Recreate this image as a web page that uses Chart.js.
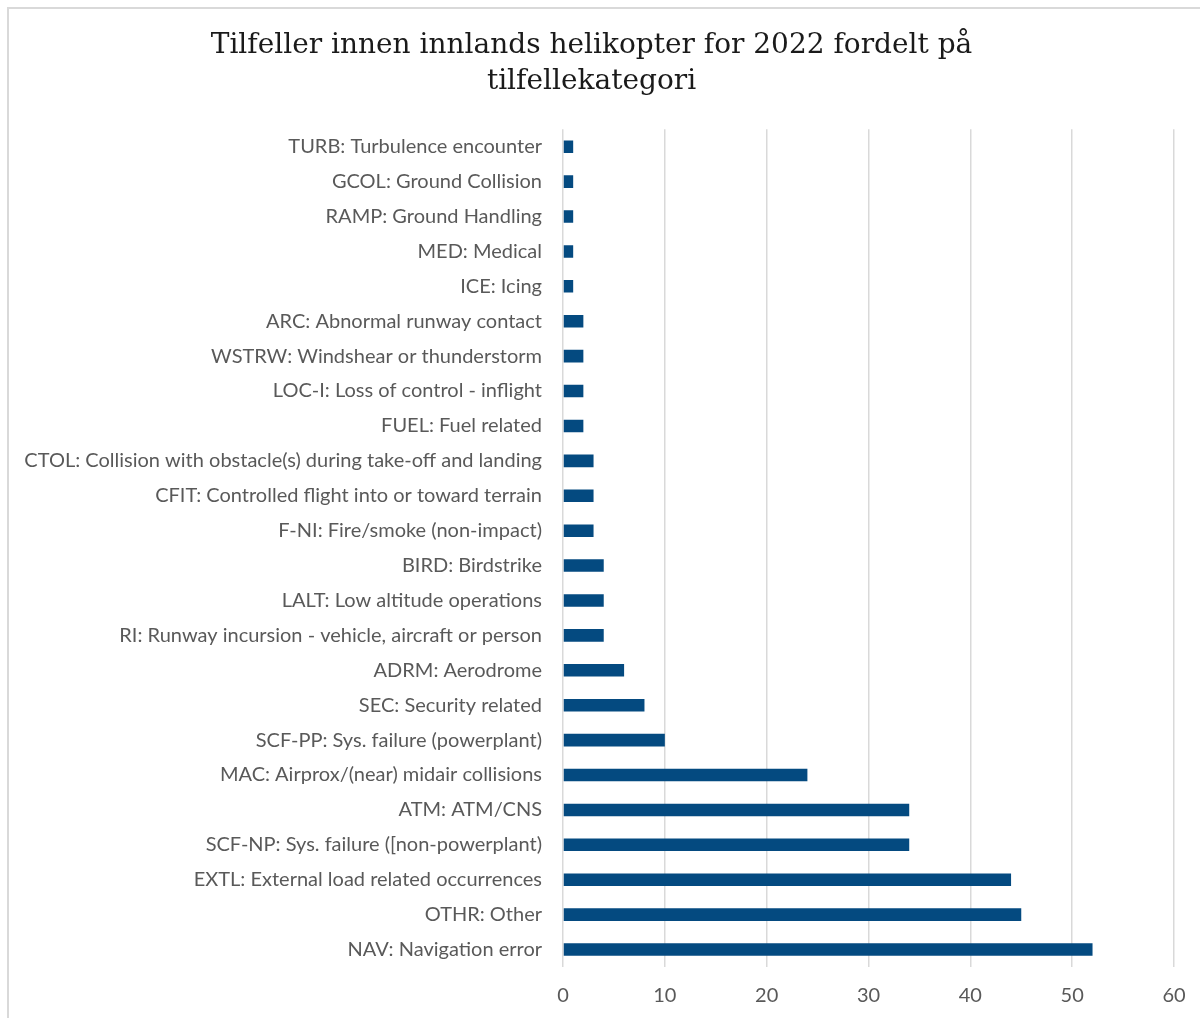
<!DOCTYPE html>
<html lang="no">
<head>
  <meta charset="UTF-8">
  <title>Tilfeller innen innlands helikopter 2022</title>
  <script src="https://cdn.jsdelivr.net/npm/chart.js@4.4.1/dist/chart.umd.min.js"></script>
  <style>
    html, body {
      margin: 0;
      padding: 0;
      background: #fff;
      overflow: hidden;
    }

    #frame {
      position: absolute;
      left: 7px;
      top: 7px;
      width: 1204px;
      height: 1009px;
      border-top: 2px solid #d9d9d9;
      border-left: 2px solid #d9d9d9;
    }

    #chart {
      display: block;
    }
  </style>
</head>
<body>
<div id="frame">
  <canvas id="chart" width="1204" height="1009"></canvas>
</div>

<script>
  // Categories, top to bottom as drawn
  const categories = [
    'TURB: Turbulence encounter',
    'GCOL: Ground Collision',
    'RAMP: Ground Handling',
    'MED: Medical',
    'ICE: Icing',
    'ARC: Abnormal runway contact',
    'WSTRW: Windshear or thunderstorm',
    'LOC-I: Loss of control - inflight',
    'FUEL: Fuel related',
    'CTOL: Collision with obstacle(s) during take-off and landing',
    'CFIT: Controlled flight into or toward terrain',
    'F-NI: Fire/smoke (non-impact)',
    'BIRD: Birdstrike',
    'LALT: Low altitude operations',
    'RI: Runway incursion - vehicle, aircraft or person',
    'ADRM: Aerodrome',
    'SEC: Security related',
    'SCF-PP: Sys. failure (powerplant)',
    'MAC: Airprox/(near) midair collisions',
    'ATM: ATM/CNS',
    'SCF-NP: Sys. failure ([non-powerplant)',
    'EXTL: External load related occurrences',
    'OTHR: Other',
    'NAV: Navigation error'
  ];

  const counts = [1, 1, 1, 1, 1, 2, 2, 2, 2, 3, 3, 3, 4, 4, 4, 6, 8, 10, 24, 34, 34, 44, 45, 52];

  const xTicks = [0, 10, 20, 30, 40, 50, 60];

  const titleLines = ['Tilfeller innen innlands helikopter for 2022 fordelt på', 'tilfellekategori'];

  const sansFont = 'Lato, "Noto Sans", sans-serif';
  const labelGrey = '#595959';

  new Chart(document.getElementById('chart'), {
    type: 'bar',
    data: {
      labels: categories,
      datasets: [{
        data: counts,
        backgroundColor: '#044a80',
        borderWidth: 0,
        barPercentage: 0.36,
        categoryPercentage: 1.0
      }]
    },
    options: {
      indexAxis: 'y',
      responsive: false,
      maintainAspectRatio: false,
      animation: false,
      layout: {
        padding: { left: 0, right: 39, top: 0, bottom: 0 }
      },
      scales: {
        x: {
          min: 0,
          max: 60,
          afterBuildTicks: (scale) => {
            scale.ticks = xTicks.map(v => ({ value: v }));
          },
          afterFit: (scale) => {
            scale.height = 51;
          },
          grid: {
            color: '#d9d9d9',
            lineWidth: 1.5,
            drawTicks: false
          },
          border: { display: false },
          ticks: {
            padding: 17,
            color: labelGrey,
            font: { family: sansFont, size: 20 }
          }
        },
        y: {
          afterFit: (scale) => {
            scale.width = 554;
          },
          grid: { display: false, drawTicks: false },
          border: { display: false },
          ticks: {
            padding: 21,
            color: labelGrey,
            autoSkip: false,
            font: { family: sansFont, size: 20 }
          }
        }
      },
      plugins: {
        legend: { display: false },
        tooltip: { enabled: false },
        title: {
          display: true,
          text: titleLines,
          color: '#1a1a1a',
          font: { family: '"DejaVu Serif", serif', size: 28, weight: 'normal', lineHeight: 1.29 },
          padding: { top: 19, bottom: 29 }
        }
      }
    }
  });
</script>
</body>
</html>
